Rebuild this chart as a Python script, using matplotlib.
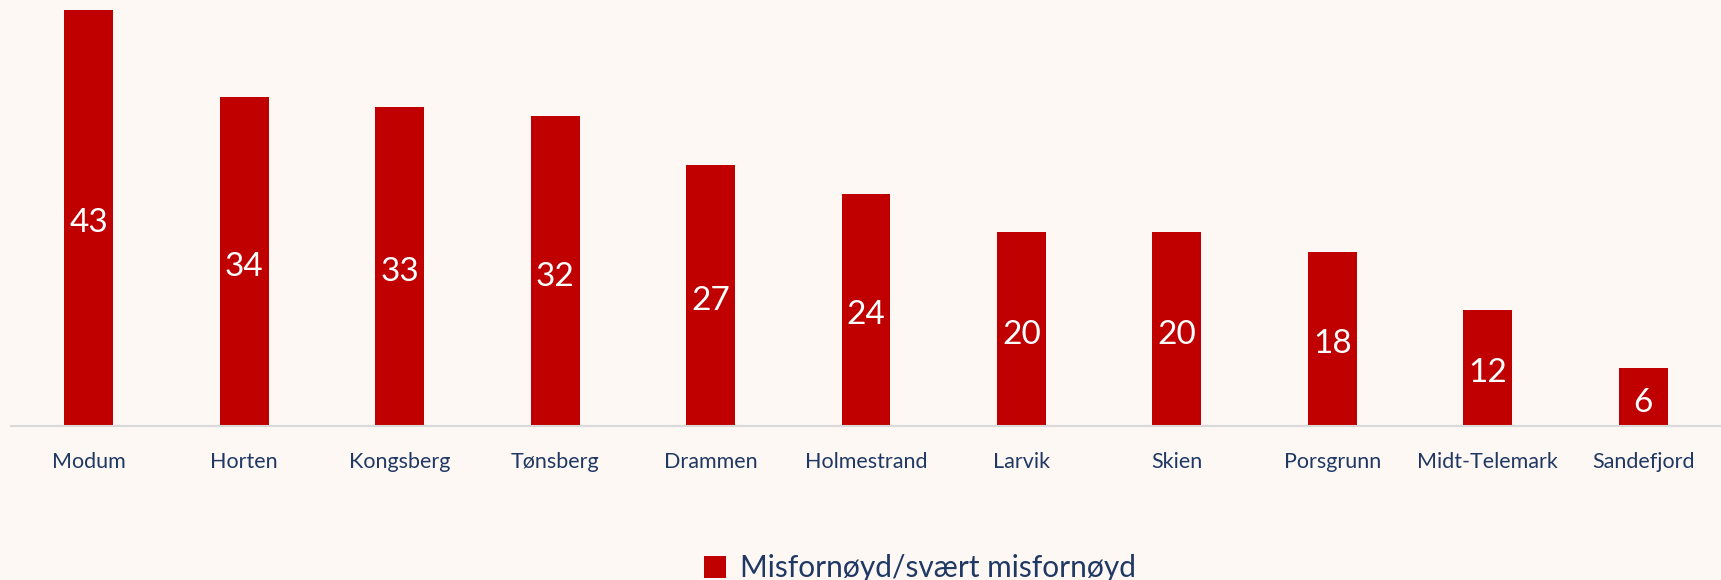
import matplotlib
matplotlib.use("Agg")
import matplotlib.pyplot as plt
import matplotlib.transforms as mtransforms
from matplotlib.patches import Patch

categories = ["Modum", "Horten", "Kongsberg", "Tønsberg", "Drammen", "Holmestrand",
              "Larvik", "Skien", "Porsgrunn", "Midt-Telemark", "Sandefjord"]
values = [43, 34, 33, 32, 27, 24, 20, 20, 18, 12, 6]
series_name = "Misfornøyd/svært misfornøyd"

BG = "#FDF8F4"
BAR = "#C00000"
TXT = "#1F3864"

plt.rcParams['font.family'] = ['Lato', 'DejaVu Sans']

W, H = 1721, 580
fig = plt.figure(figsize=(W/100, H/100), dpi=100, facecolor=BG)
ax = fig.add_axes([11/W, 1 - 426/H, 1710/W, 426/H], facecolor=BG)

x = range(len(categories))
bars = ax.bar(x, values, width=0.315, color=BAR, zorder=2)
offset = mtransforms.offset_copy(ax.transData, fig=fig, x=0, y=-4, units='points')
for b, v in zip(bars, values):
    ax.text(b.get_x() + b.get_width()/2, v/2, str(v), ha='center', va='center',
            color='white', fontsize=24, transform=offset)

ax.set_xlim(-0.5, len(categories) - 0.5)
ax.set_ylim(0, 44)
ax.set_yticks([])
ax.set_xticks(list(x))
ax.set_xticklabels(categories, fontsize=15.5, color=TXT)
ax.tick_params(axis='x', length=0, pad=19)
for s in ['top', 'right', 'left']:
    ax.spines[s].set_visible(False)
ax.spines['bottom'].set_color('#D9D9D9')
ax.spines['bottom'].set_linewidth(1.5)

handle = Patch(facecolor=BAR, edgecolor='none')
fig.legend([handle], [series_name], loc='center', bbox_to_anchor=(920/W, 1 - 568/H),
           frameon=False, fontsize=21.5, labelcolor=TXT, handlelength=0.75, handleheight=0.75,
           handletextpad=0.45, borderpad=0)

fig.savefig("out.png", dpi=100, facecolor=BG)
